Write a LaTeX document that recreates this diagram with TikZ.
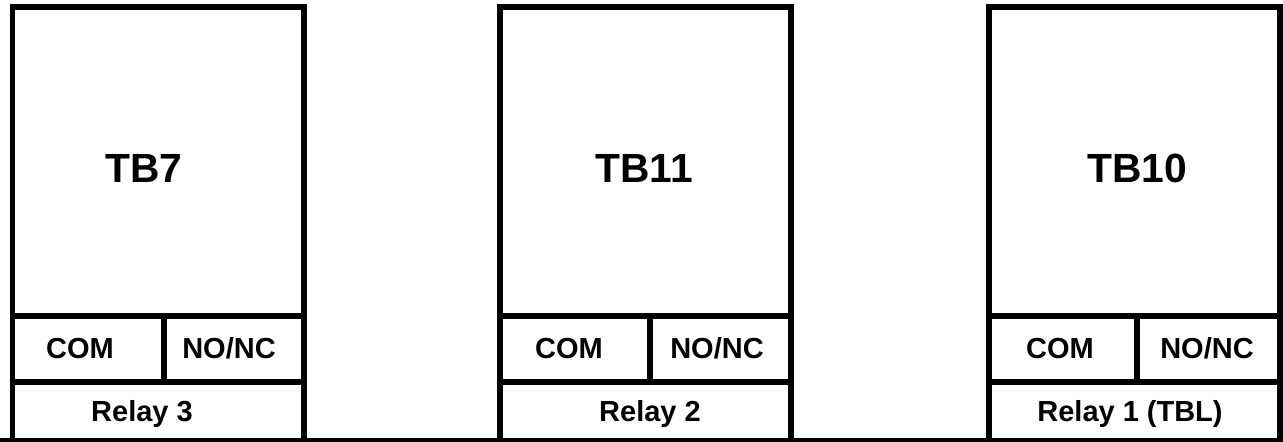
\documentclass[tikz,border=0pt]{standalone}
\usepackage{fontspec}
\setmainfont{Liberation Sans}
\usetikzlibrary{positioning}

\begin{document}
\begin{tikzpicture}[
    x=0.02cm, y=-0.02cm,
    frame/.style={draw=black, line width=0.12cm},
    title/.style={font=\fontsize{23.2}{27}\selectfont\bfseries, inner sep=0pt, anchor=base},
    pin/.style={font=\fontsize{16.5}{19}\selectfont\bfseries, inner sep=0pt, anchor=base},
]
\useasboundingbox (0,0) rectangle (1283,442);
\draw[frame] (0,440.5) -- (1283,440.5);
\foreach \i/\l/\r/\d/\tb/\tx/\cx/\nx/\rx/\relay in {
    1/12.5/304/163.5/TB7/144/80/229/142/Relay 3,
    2/500/791/650/TB11/644/569/717/650/Relay 2,
    3/989/1279.5/1137/TB10/1137/1060/1207/1130/Relay 1 (TBL)} {
    \draw[frame] (\l,7.5) rectangle (\r,440.5);
    \draw[frame] (\l,315.5) -- (\r,315.5);
    \draw[frame] (\l,382) -- (\r,382);
    \draw[frame] (\d,315.5) -- (\d,382);
    \node[title] (tb\i) at (\tx,182) {\tb};
    \node[pin] (com\i) at (\cx,358.5) {COM};
    \node[pin] (nonc\i) at (\nx,358.5) {NO/NC};
    \node[pin] (relay\i) at (\rx,421) {\relay};
}
\end{tikzpicture}
\end{document}
